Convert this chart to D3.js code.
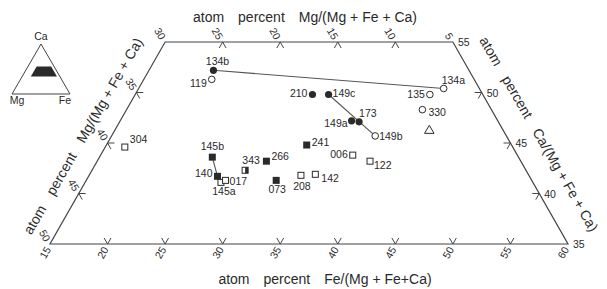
<!DOCTYPE html>
<html>
<head>
<meta charset="utf-8">
<script src="https://cdn.jsdelivr.net/npm/d3@7"></script>
<style>
  body { margin: 0; background: #fff; }
  svg text { font-family: "Liberation Sans", Arial, sans-serif; fill: #2a2a2a; }
  .tick-label { font-size: 10.5px; }
  .title { font-size: 14px; }
  .sample { font-size: 10.5px; }
</style>
</head>
<body>
<svg width="607" height="289"></svg>
<script>
// sample compositions, atom percent (Mg = 100 - Fe - Ca)
const sampleIds = ["134b", "119", "134a", "135", "330", "", "210", "149c", "149a", "173", "149b",
  "241", "006", "122", "266", "343", "145b", "140", "145a", "017", "073", "208", "142", "304"];
const feValues = [20.6, 20.9, 41.5, 40.6, 40.7, 42.3, 30.4, 31.8, 35.1, 35.8, 37.9,
  32.4, 36.9, 38.7, 29.7, 28.3, 24.8, 26.2, 26.8, 27.1, 31.5, 33.4, 34.6, 16.7];
const caValues = [52.2, 51.3, 50.4, 49.8, 48.3, 46.3, 49.8, 49.8, 47.2, 47.1, 45.7,
  44.8, 43.8, 43.2, 43.2, 42.3, 43.6, 41.7, 41.1, 41.3, 41.3, 41.8, 41.9, 44.6];
const markerKinds = ["dot", "ring", "ring", "ring", "ring", "triangle", "dot", "dot", "dot", "dot", "ring",
  "solidSquare", "openSquare", "openSquare", "solidSquare", "halfSquare", "solidSquare", "solidSquare",
  "openSquare", "openSquare", "solidSquare", "openSquare", "openSquare", "openSquare"];
const tieLines = [["134b", "134a"], ["149c", "149b"], ["145b", "140"]];

// tick labels
const mgTop = [30, 25, 20, 15, 10, 5];
const mgLeft = [35, 40, 45, 50];
const feBottom = [15, 20, 25, 30, 35, 40, 45, 50, 55, 60];
const caRight = [55, 50, 45, 40, 35];

// label placement (dx, dy, anchor) relative to marker
const labelPlace = {
  "134b": [4, -5, "middle"], "119": [-5, 8, "end"], "134a": [-2, -4, "start"], "135": [-5, 3, "end"],
  "330": [6, 6, "start"], "210": [-5, 2, "end"], "149c": [4, 2, "start"], "149a": [-4, 6, "end"],
  "173": [0, -5, "start"], "149b": [4, 4, "start"], "241": [5, 1, "start"], "006": [-5, 3, "end"],
  "122": [4, 8, "start"], "266": [5, -1, "start"], "343": [6, -6, "middle"], "145b": [0, -7, "middle"],
  "140": [-5, 1, "end"], "145a": [3, 13, "middle"], "017": [4, 5, "start"], "073": [1, 13, "middle"],
  "208": [1, 15, "middle"], "142": [6, 8, "start"], "304": [5, -4, "start"]
};

const samples = sampleIds.map((id, i) => ({ id, fe: feValues[i], ca: caValues[i], kind: markerKinds[i] }));

const svg = d3.select("svg");
const ink = "#2a2a2a";

// ternary: X = Fe + Ca/2, Y = Ca
const xScale = d3.scaleLinear().domain([32.5, 77.5]).range([50, 568]);
const yScale = d3.scaleLinear().domain([35, 55]).range([244, 42]);
const pt = (fe, ca) => [xScale(fe + ca / 2), yScale(ca)];

// frame
const corners = [[15, 55], [40, 55], [60, 35], [15, 35]];
svg.append("polygon")
  .attr("points", corners.map(c => pt(c[0], c[1]).join(",")).join(" "))
  .attr("fill", "none")
  .attr("stroke", "#444")
  .attr("stroke-width", 1.2);

// tick stubs
const d = 0.6;
function stub(fe, ca, dirs) {
  const p = pt(fe, ca);
  dirs.forEach(v => {
    const q = pt(fe + v[0], ca + v[1]);
    svg.append("line")
      .attr("x1", p[0]).attr("y1", p[1]).attr("x2", q[0]).attr("y2", q[1])
      .attr("stroke", "#444").attr("stroke-width", 1);
  });
}
mgTop.slice(1, -1).forEach(mg => stub(45 - mg, 55, [[d, -d], [0, -d]]));
feBottom.slice(1, -1).forEach(fe => stub(fe, 35, [[0, d], [-d, d]]));
mgLeft.slice(0, -1).forEach(mg => stub(15, 85 - mg, [[d, -d], [d, 0]]));
caRight.slice(1, -1).forEach(ca => stub(95 - ca, ca, [[-d, 0], [0, -d]]));

// tick labels
function mgLabel(fe, ca, v) {
  const p = pt(fe, ca);
  svg.append("text").attr("class", "tick-label")
    .attr("transform", `translate(${p[0] - 2},${p[1] - 3.5}) rotate(60)`)
    .attr("text-anchor", "end").attr("dominant-baseline", "central").text(v);
}
mgTop.forEach(mg => mgLabel(45 - mg, 55, mg));
mgLeft.forEach(mg => mgLabel(15, 85 - mg, mg));
feBottom.forEach(fe => {
  const p = pt(fe, 35);
  svg.append("text").attr("class", "tick-label")
    .attr("transform", `translate(${p[0] - 2},${p[1] + 3.5}) rotate(-60)`)
    .attr("text-anchor", "end").attr("dominant-baseline", "central").text(fe);
});
caRight.forEach(ca => {
  const p = pt(95 - ca, ca);
  svg.append("text").attr("class", "tick-label")
    .attr("x", p[0] + 5).attr("y", p[1])
    .attr("dominant-baseline", "central").text(ca);
});

// axis titles
const gap = "\u2003";
svg.append("text").attr("class", "title").attr("x", 305).attr("y", 22)
  .attr("text-anchor", "middle").text(`atom${gap}percent${gap}Mg/(Mg + Fe + Ca)`);
svg.append("text").attr("class", "title").attr("x", 325).attr("y", 284)
  .attr("text-anchor", "middle").text(`atom${gap}percent${gap}Fe/(Mg + Fe+Ca)`);
svg.append("text").attr("class", "title")
  .attr("transform", "translate(83,136) rotate(-60)")
  .attr("text-anchor", "middle").attr("dominant-baseline", "central")
  .text(`atom${gap}percent${gap}Mg/(Mg + Fe + Ca)`);
svg.append("text").attr("class", "title")
  .attr("transform", "translate(539,134) rotate(60)")
  .attr("text-anchor", "middle").attr("dominant-baseline", "central")
  .text(`atom${gap}percent${gap}Ca/(Mg + Fe + Ca)`);

// tie lines
const byId = new Map(samples.map(s => [s.id, s]));
tieLines.forEach(([a, b]) => {
  const p = pt(byId.get(a).fe, byId.get(a).ca), q = pt(byId.get(b).fe, byId.get(b).ca);
  svg.append("line")
    .attr("x1", p[0]).attr("y1", p[1]).attr("x2", q[0]).attr("y2", q[1])
    .attr("stroke", "#555").attr("stroke-width", 1.1);
});

// markers
const marks = svg.append("g").selectAll("g").data(samples).enter().append("g")
  .attr("transform", s => `translate(${pt(s.fe, s.ca).join(",")})`);
marks.each(function (s) {
  const g = d3.select(this);
  if (s.kind === "dot") g.append("circle").attr("r", 3.6).attr("fill", ink);
  if (s.kind === "ring") g.append("circle").attr("r", 3.3).attr("fill", "#fff").attr("stroke", ink).attr("stroke-width", 1);
  if (s.kind === "solidSquare") g.append("rect").attr("x", -3.5).attr("y", -3.5).attr("width", 7).attr("height", 7).attr("fill", ink);
  if (s.kind === "openSquare") g.append("rect").attr("x", -3).attr("y", -3).attr("width", 6).attr("height", 6).attr("fill", "#fff").attr("stroke", ink).attr("stroke-width", 1);
  if (s.kind === "halfSquare") {
    g.append("rect").attr("x", -3).attr("y", -3).attr("width", 6).attr("height", 6).attr("fill", "#fff").attr("stroke", ink).attr("stroke-width", 1);
    g.append("rect").attr("x", 0).attr("y", -3).attr("width", 3).attr("height", 6).attr("fill", ink);
  }
  if (s.kind === "triangle") g.append("path").attr("d", "M0,-4.5L4.8,3.5L-4.8,3.5Z").attr("fill", "none").attr("stroke", ink).attr("stroke-width", 1);
});
marks.filter(s => s.id).append("text").attr("class", "sample")
  .attr("x", s => labelPlace[s.id][0]).attr("y", s => labelPlace[s.id][1])
  .attr("text-anchor", s => labelPlace[s.id][2])
  .text(s => s.id);

// inset triangle
const insetX = d3.scaleLinear().domain([0, 100]).range([12, 70]);
const insetY = d3.scaleLinear().domain([0, 100]).range([94, 44]);
const ip = (fe, ca) => [insetX(fe + ca / 2), insetY(ca)];
svg.append("polygon")
  .attr("points", [ip(0, 100), ip(0, 0), ip(100, 0)].map(p => p.join(",")).join(" "))
  .attr("fill", "none").attr("stroke", "#444").attr("stroke-width", 1);
svg.append("polygon")
  .attr("points", corners.map(c => ip(c[0], c[1]).join(",")).join(" "))
  .attr("fill", ink);
svg.append("text").attr("class", "tick-label").attr("x", ip(0, 100)[0]).attr("y", ip(0, 100)[1] - 4)
  .attr("text-anchor", "middle").text("Ca");
svg.append("text").attr("class", "tick-label").attr("x", ip(0, 0)[0] + 5).attr("y", ip(0, 0)[1] + 10)
  .attr("text-anchor", "middle").text("Mg");
svg.append("text").attr("class", "tick-label").attr("x", ip(100, 0)[0] - 5).attr("y", ip(100, 0)[1] + 10)
  .attr("text-anchor", "middle").text("Fe");
</script>
</body>
</html>
